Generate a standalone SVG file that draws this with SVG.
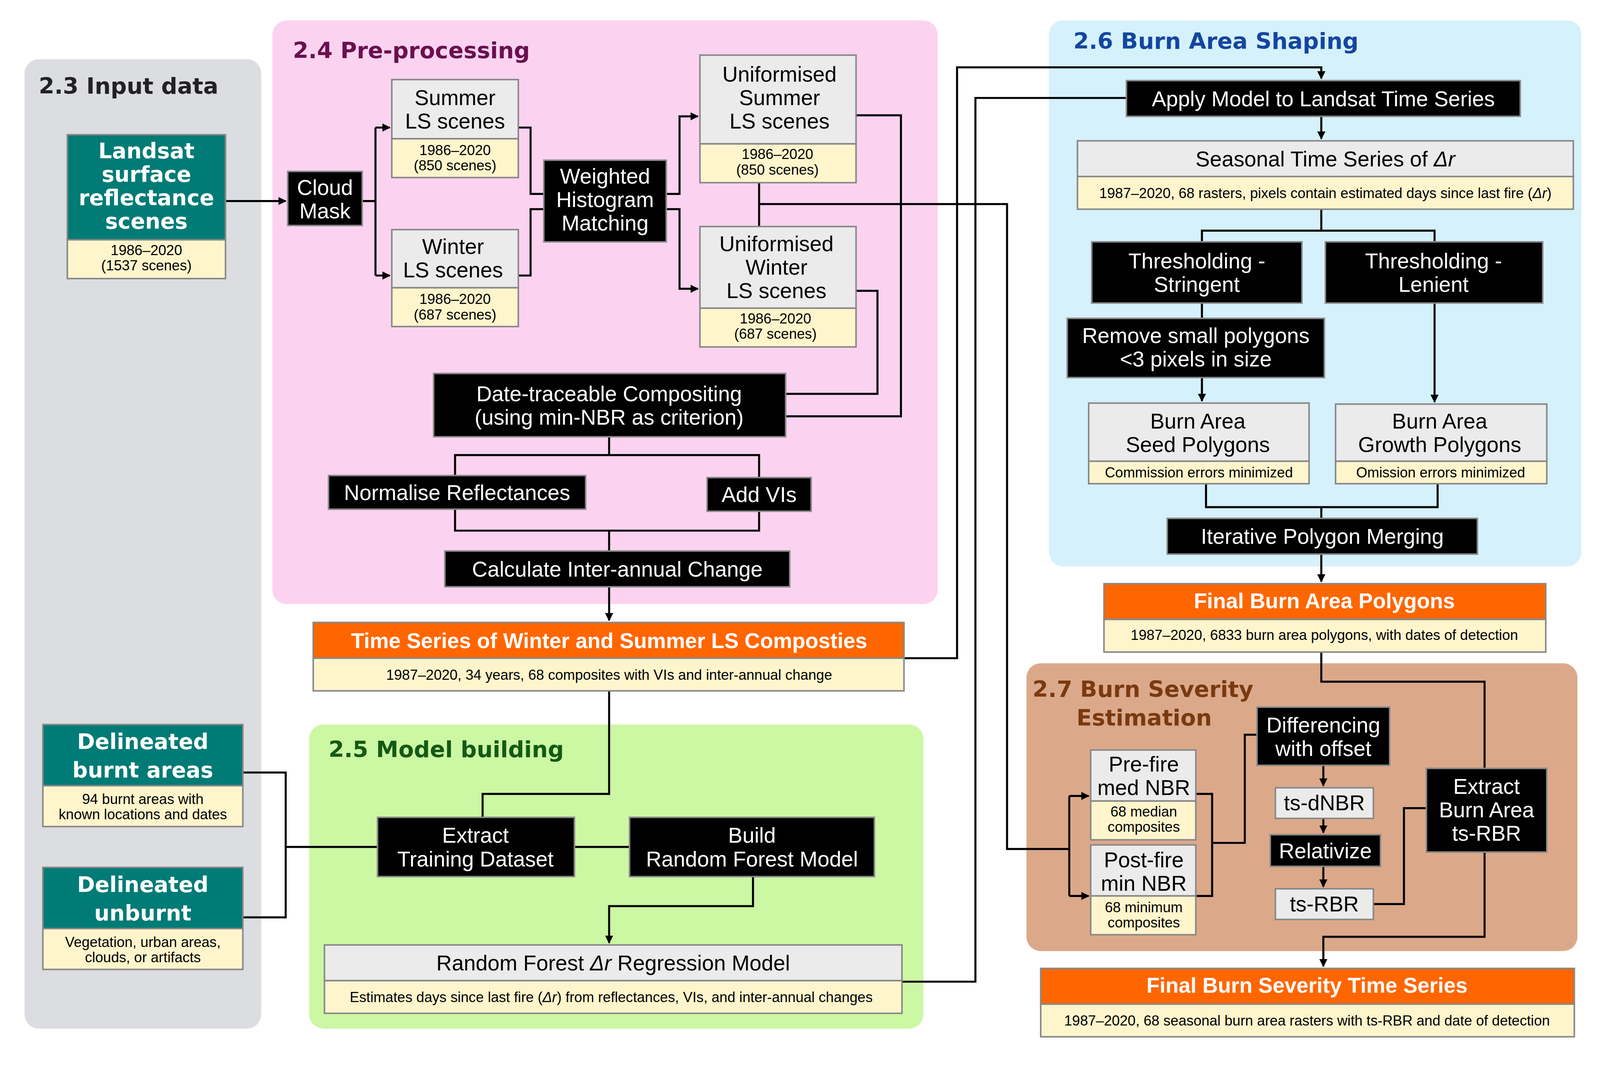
<svg xmlns="http://www.w3.org/2000/svg" width="4207" height="2767" viewBox="0 0 4207 2767">
<style>
.t{font-family:"DejaVu Sans",Verdana,sans-serif;font-weight:bold;font-size:22px}
.bk{fill:#000;stroke:#888;stroke-width:1.5}
.gr{fill:#ebebeb;stroke:#888;stroke-width:1.5}
.cr{fill:#fff5cc;stroke:#888;stroke-width:1.5}
.tl{fill:#007b76;stroke:#888;stroke-width:1.5}
.or{fill:#ff6600;stroke:#888;stroke-width:1.5}
.w{fill:#fff;font-family:"Liberation Sans",Arial,sans-serif;font-size:21px;text-anchor:middle}
.k{fill:#000;font-family:"Liberation Sans",Arial,sans-serif;font-size:21px;text-anchor:middle}
.s{fill:#000;font-family:"Liberation Sans",Arial,sans-serif;font-size:14px;text-anchor:middle}
.tw{fill:#fff;font-family:"DejaVu Sans",Verdana,sans-serif;font-weight:bold;font-size:21px;text-anchor:middle}
.ow{fill:#fff;font-family:"Liberation Sans",Arial,sans-serif;font-weight:bold;font-size:21px;text-anchor:middle}
#c path{fill:none;stroke:#000;stroke-width:2}
</style>
<defs><marker id="a" viewBox="0 0 10 10" refX="9" refY="5" markerWidth="4" markerHeight="4" orient="auto"><path d="M0,0L10,5L0,10z" fill="#000"/></marker></defs>
<rect width="4207" height="2767" fill="#fff"/>
<g transform="scale(2.612)">
<g id="panels">
<rect x="24" y="58" width="232" height="950" rx="14" fill="#dcdde1"/>
<text x="38" y="92" class="t" fill="#222">2.3 Input data</text>
<rect x="267" y="20" width="652" height="572" rx="14" fill="#fbd3f0"/>
<text x="287" y="57" class="t" fill="#6b0f4f">2.4 Pre-processing</text>
<rect x="1028" y="20" width="522" height="535" rx="14" fill="#d5f1fb"/>
<text x="1052" y="48" class="t" fill="#1446a0">2.6 Burn Area Shaping</text>
<rect x="303" y="710" width="602" height="298" rx="14" fill="#ccf7a3"/>
<text x="322" y="742" class="t" fill="#145a14">2.5 Model building</text>
<rect x="1006" y="650" width="540" height="282" rx="14" fill="#dba98a"/>
<text x="1012" y="683" class="t" fill="#7a3a10">2.7 Burn Severity</text>
<text x="1055" y="711" class="t" fill="#7a3a10">Estimation</text>
</g>
<g id="c">
<path d="M221,197H280" marker-end="url(#a)"/>
<path d="M355,197H368M368,125V270M368,125H382" marker-end="url(#a)"/>
<path d="M368,270H382" marker-end="url(#a)"/>
<path d="M508,125H520V190H533M508,270H520V205H533"/>
<path d="M653,190H666V114H684" marker-end="url(#a)"/>
<path d="M653,205H666V283H684" marker-end="url(#a)"/>
<path d="M839,113H883V408H770M839,285H860V386H770"/>
<path d="M744,179V222M744,200H987V832H1048M1048,780V878M1048,780H1067" marker-end="url(#a)"/>
<path d="M1048,878H1067" marker-end="url(#a)"/>
<path d="M1172,778H1188V878H1172M1188,826H1220V720H1232"/>
<path d="M1297,750V770" marker-end="url(#a)"/>
<path d="M1297,802V816" marker-end="url(#a)"/>
<path d="M1297,849V869" marker-end="url(#a)"/>
<path d="M1346,886H1376V792H1398"/>
<path d="M1295,639V668H1455V753M1455,835V918H1297V947" marker-end="url(#a)"/>
<path d="M597,428V446H446V466M597,446H744V468M446,499V520H744V501M597,520V540"/>
<path d="M597,575V608" marker-end="url(#a)"/>
<path d="M597,677V778H473V801"/>
<path d="M886,645H938V66H1295V77" marker-end="url(#a)"/>
<path d="M1104,96H956V962H884"/>
<path d="M1295,114V136" marker-end="url(#a)"/>
<path d="M1295,205V226H1178V237M1295,226H1406V237M1178,297V312"/>
<path d="M1178,370V393" marker-end="url(#a)"/>
<path d="M1406,297V394" marker-end="url(#a)"/>
<path d="M1182,474V497H1409V474M1295,497V508"/>
<path d="M1295,543V570" marker-end="url(#a)"/>
<path d="M238,757H280V899H238M280,830H370M563,830H617"/>
<path d="M738,859V888H597V924" marker-end="url(#a)"/>
</g>
<g id="landsat"><rect class="tl" x="66" y="132" width="155" height="103"/><text class="tw" x="143.5" y="155">Landsat</text><text class="tw" x="143.5" y="178">surface</text><text class="tw" x="143.5" y="201">reflectance</text><text class="tw" x="143.5" y="224">scenes</text><rect class="cr" x="66" y="235" width="155" height="38"/><text class="s" x="143.5" y="250">1986–2020</text><text class="s" x="143.5" y="265">(1537 scenes)</text></g>
<g id="burnt"><rect class="tl" x="42" y="710" width="196" height="60"/><text class="tw" x="140" y="734">Delineated</text><text class="tw" x="140" y="762">burnt areas</text><rect class="cr" x="42" y="770" width="196" height="40"/><text class="s" x="140" y="788">94 burnt areas with</text><text class="s" x="140" y="803">known locations and dates</text></g>
<g id="unburnt"><rect class="tl" x="42" y="850" width="196" height="60"/><text class="tw" x="140" y="874">Delineated</text><text class="tw" x="140" y="902">unburnt</text><rect class="cr" x="42" y="910" width="196" height="40"/><text class="s" x="140" y="928">Vegetation, urban areas,</text><text class="s" x="140" y="943">clouds, or artifacts</text></g>
<g id="cloud"><rect class="bk" x="282" y="168" width="73" height="53"/><text class="w" x="318.5" y="191">Cloud</text><text class="w" x="318.5" y="214">Mask</text></g>
<g id="summer"><rect class="gr" x="384" y="78" width="124" height="58"/><text class="k" x="446" y="103">Summer</text><text class="k" x="446" y="126">LS scenes</text><rect class="cr" x="384" y="136" width="124" height="38"/><text class="s" x="446" y="152">1986–2020</text><text class="s" x="446" y="167">(850 scenes)</text></g>
<g id="winter"><rect class="gr" x="384" y="225" width="124" height="57"/><text class="k" x="444" y="249">Winter</text><text class="k" x="444" y="272">LS scenes</text><rect class="cr" x="384" y="282" width="124" height="38"/><text class="s" x="446" y="298">1986–2020</text><text class="s" x="446" y="313">(687 scenes)</text></g>
<g id="whm"><rect class="bk" x="533" y="157" width="120" height="80"/><text class="w" x="593" y="180">Weighted</text><text class="w" x="593" y="203">Histogram</text><text class="w" x="593" y="226">Matching</text></g>
<g id="usummer"><rect class="gr" x="686" y="54" width="153" height="87"/><text class="k" x="764" y="80">Uniformised</text><text class="k" x="764" y="103">Summer</text><text class="k" x="764" y="126">LS scenes</text><rect class="cr" x="686" y="141" width="153" height="38"/><text class="s" x="762" y="156">1986–2020</text><text class="s" x="762" y="171">(850 scenes)</text></g>
<g id="uwinter"><rect class="gr" x="686" y="222" width="153" height="80"/><text class="k" x="761" y="246">Uniformised</text><text class="k" x="761" y="269">Winter</text><text class="k" x="761" y="292">LS scenes</text><rect class="cr" x="686" y="302" width="153" height="38"/><text class="s" x="760" y="317">1986–2020</text><text class="s" x="760" y="332">(687 scenes)</text></g>
<g id="dtc"><rect class="bk" x="425" y="366" width="345" height="62"/><text class="w" x="597" y="393">Date-traceable Compositing</text><text class="w" x="597" y="416">(using min-NBR as criterion)</text></g>
<g id="norm"><rect class="bk" x="322" y="466" width="252" height="33"/><text class="w" x="448" y="490">Normalise Reflectances</text></g>
<g id="vis"><rect class="bk" x="693" y="468" width="102" height="33"/><text class="w" x="744" y="492">Add VIs</text></g>
<g id="calc"><rect class="bk" x="436" y="540" width="338" height="35"/><text class="w" x="605" y="565">Calculate Inter-annual Change</text></g>
<g id="tsc"><rect class="or" x="307" y="610" width="579" height="35"/><text class="ow" x="597" y="635">Time Series of Winter and Summer LS Composties</text><rect class="cr" x="307" y="645" width="579" height="32"/><text class="s" x="597" y="666">1987–2020, 34 years, 68 composites with VIs and inter-annual change</text></g>
<g id="etd"><rect class="bk" x="370" y="801" width="193" height="58"/><text class="w" x="466" y="826">Extract</text><text class="w" x="466" y="849">Training Dataset</text></g>
<g id="brf"><rect class="bk" x="617" y="801" width="240" height="58"/><text class="w" x="737" y="826">Build</text><text class="w" x="737" y="849">Random Forest Model</text></g>
<g id="rfm"><rect class="gr" x="318" y="926" width="566" height="35"/><text class="k" x="601" y="951">Random Forest <tspan font-style="italic">Δr</tspan> Regression Model</text><rect class="cr" x="318" y="961" width="566" height="32"/><text class="s" x="599" y="982">Estimates days since last fire (<tspan font-style="italic">Δr</tspan>) from reflectances, VIs, and inter-annual changes</text></g>
<g id="apply"><rect class="bk" x="1104" y="79" width="386" height="35"/><text class="w" x="1297" y="104">Apply Model to Landsat Time Series</text></g>
<g id="seasonal"><rect class="gr" x="1056" y="138" width="486" height="35"/><text class="k" x="1299" y="163">Seasonal Time Series of <tspan font-style="italic">Δr</tspan></text><rect class="cr" x="1056" y="173" width="486" height="32"/><text class="s" x="1299" y="194">1987–2020, 68 rasters, pixels contain estimated days since last fire (<tspan font-style="italic">Δr</tspan>)</text></g>
<g id="strin"><rect class="bk" x="1070" y="237" width="206" height="60"/><text class="w" x="1173" y="263">Thresholding -</text><text class="w" x="1173" y="286">Stringent</text></g>
<g id="lenient"><rect class="bk" x="1299" y="237" width="213" height="60"/><text class="w" x="1405" y="263">Thresholding -</text><text class="w" x="1405" y="286">Lenient</text></g>
<g id="remove"><rect class="bk" x="1046" y="312" width="252" height="58"/><text class="w" x="1172" y="336">Remove small polygons</text><text class="w" x="1172" y="359">&lt;3 pixels in size</text></g>
<g id="seed"><rect class="gr" x="1067" y="395" width="216" height="57"/><text class="k" x="1174" y="420">Burn Area</text><text class="k" x="1174" y="443">Seed Polygons</text><rect class="cr" x="1067" y="452" width="216" height="22"/><text class="s" x="1175" y="468">Commission errors minimized</text></g>
<g id="growth"><rect class="gr" x="1309" y="396" width="207" height="56"/><text class="k" x="1411" y="420">Burn Area</text><text class="k" x="1411" y="443">Growth Polygons</text><rect class="cr" x="1309" y="452" width="207" height="22"/><text class="s" x="1412" y="468">Omission errors minimized</text></g>
<g id="merge"><rect class="bk" x="1144" y="508" width="304" height="35"/><text class="w" x="1296" y="533">Iterative Polygon Merging</text></g>
<g id="fbap"><rect class="or" x="1082" y="572" width="433" height="35"/><text class="ow" x="1298" y="596">Final Burn Area Polygons</text><rect class="cr" x="1082" y="607" width="433" height="32"/><text class="s" x="1298" y="627">1987–2020, 6833 burn area polygons, with dates of detection</text></g>
<g id="prefire"><rect class="gr" x="1069" y="735" width="103" height="50"/><text class="k" x="1121" y="756">Pre-fire</text><text class="k" x="1121" y="779">med NBR</text><rect class="cr" x="1069" y="785" width="103" height="38"/><text class="s" x="1121" y="800">68 median</text><text class="s" x="1121" y="815">composites</text></g>
<g id="postfire"><rect class="gr" x="1069" y="828" width="103" height="50"/><text class="k" x="1121" y="850">Post-fire</text><text class="k" x="1121" y="873">min NBR</text><rect class="cr" x="1069" y="878" width="103" height="38"/><text class="s" x="1121" y="894">68 minimum</text><text class="s" x="1121" y="909">composites</text></g>
<g id="diff"><rect class="bk" x="1232" y="693" width="130" height="57"/><text class="w" x="1297" y="718">Differencing</text><text class="w" x="1297" y="741">with offset</text></g>
<g id="dnbr"><rect class="gr" x="1250" y="772" width="96" height="30"/><text class="k" x="1298" y="794">ts-dNBR</text></g>
<g id="rel"><rect class="bk" x="1245" y="818" width="108" height="31"/><text class="w" x="1299" y="841">Relativize</text></g>
<g id="rbr"><rect class="gr" x="1250" y="871" width="96" height="30"/><text class="k" x="1298" y="893">ts-RBR</text></g>
<g id="extract"><rect class="bk" x="1398" y="753" width="118" height="82"/><text class="w" x="1457" y="778">Extract</text><text class="w" x="1457" y="801">Burn Area</text><text class="w" x="1457" y="824">ts-RBR</text></g>
<g id="fbs"><rect class="or" x="1020" y="949" width="523" height="35"/><text class="ow" x="1281" y="973">Final Burn Severity Time Series</text><rect class="cr" x="1020" y="984" width="523" height="32"/><text class="s" x="1281" y="1005">1987–2020, 68 seasonal burn area rasters with ts-RBR and date of detection</text></g>
</g>
</svg>
